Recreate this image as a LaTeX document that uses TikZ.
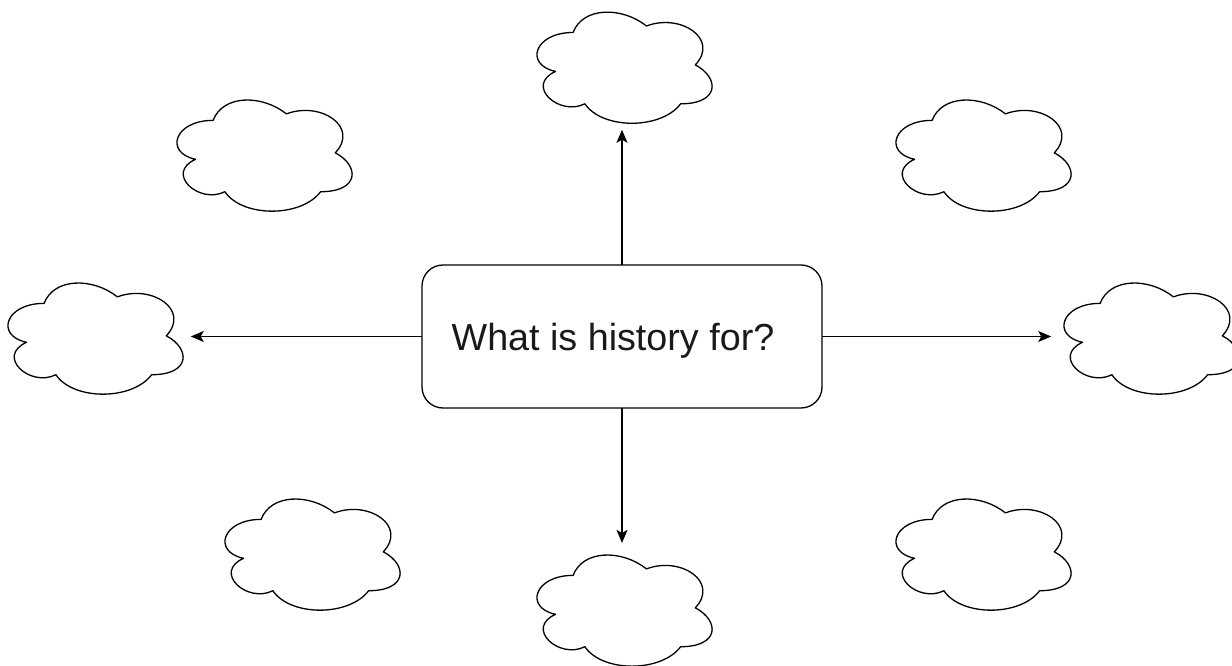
\documentclass[tikz,border=0pt]{standalone}
\usepackage{fontspec}
\setmainfont{Liberation Sans}
\usetikzlibrary{arrows.meta}
\tikzset{
  cloudbox/.style={rectangle, minimum width=195.5pt, minimum height=129.7pt, inner sep=0pt, outer sep=0pt},
  cloudline/.style={draw=black, line width=1.3pt, line join=round},
  mainbox/.style={draw=black, line width=1.3pt, rounded corners=21pt, minimum width=400pt, minimum height=143pt, inner sep=0pt, outer sep=0pt, font=\fontsize{37.7}{45}\selectfont, text=black!90, text height=27.5pt, text depth=0.5pt},
  arr/.style={draw=black, line width=1.3pt, -{Stealth[length=13pt,width=11pt,inset=3pt]}},
}
\newcommand\drawcloudshape[1]{%
  \draw[cloudline, shift={(#1.north west)}, xscale=195.5, yscale=129.7]
    (0.25,0.25) .. controls (0.05,0.25) and (0,0.5) .. (0.16,0.55)
    .. controls (0,0.66) and (0.18,0.9) .. (0.31,0.8)
    .. controls (0.4,1) and (0.7,1) .. (0.8,0.8)
    .. controls (1,0.8) and (1,0.6) .. (0.875,0.5)
    .. controls (1,0.3) and (0.8,0.1) .. (0.625,0.2)
    .. controls (0.5,0.05) and (0.3,0.05) .. (0.25,0.25) -- cycle;}
\begin{document}
\begin{tikzpicture}[x=1pt, y=-1pt]
\useasboundingbox (0,0) rectangle (1232,666);
% clouds (invisible boxes with the drawn cloud outline)
\node[cloudbox] (ct)  at (622,64.9) {};
\node[cloudbox] (ctl) at (262,152.8) {};
\node[cloudbox] (ctr) at (981,152.8) {};
\node[cloudbox] (cl)  at (93,335.8) {};
\node[cloudbox] (cr)  at (1149,335.8) {};
\node[cloudbox] (cbl) at (310,551.8) {};
\node[cloudbox] (cb)  at (622,607.8) {};
\node[cloudbox] (cbr) at (981,551.8) {};
\drawcloudshape{ct}
\drawcloudshape{ctl}
\drawcloudshape{ctr}
\drawcloudshape{cl}
\drawcloudshape{cr}
\drawcloudshape{cbl}
\drawcloudshape{cb}
\drawcloudshape{cbr}
% central box
\node[mainbox] (box) at (622,336.5) {What is history for?\hspace*{18pt}};
% arrows
\draw[arr] (box.north) -- (ct.south);
\draw[arr] (box.south) -- (cb.north);
\draw[arr] (box.west) -- (box.west -| cl.east);
\draw[arr] (box.east) -- (box.east -| cr.west);
\end{tikzpicture}
\end{document}
